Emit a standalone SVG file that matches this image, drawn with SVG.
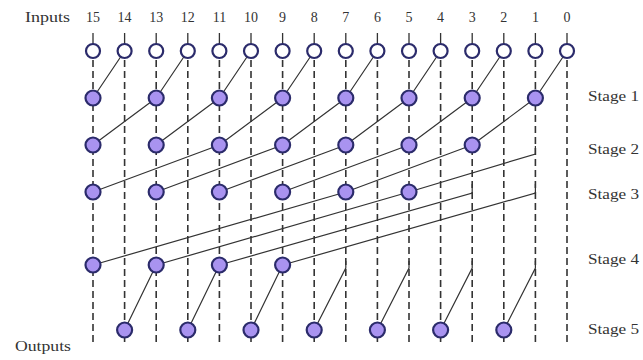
<svg xmlns="http://www.w3.org/2000/svg" width="643" height="360" viewBox="0 0 643 360">
<style>
text{font-family:"Liberation Serif","Times New Roman",serif;font-size:14px;fill:#333}
.num{text-anchor:middle;font-size:14px}
.dash{stroke:#333;stroke-width:1.6;stroke-dasharray:7 4;fill:none}
.tick{stroke:#333;stroke-width:1.3}
.w{stroke:#333;stroke-width:1.2;fill:none}
.in{fill:#fff;stroke:#2b2b6b;stroke-width:2.2}
.pc{fill:#a993f0;stroke:#2b2b6b;stroke-width:2.2}
</style>
<rect width="643" height="360" fill="#fff"/>
<g id="labels">
<text x="25" y="22" textLength="45" lengthAdjust="spacingAndGlyphs">Inputs</text>
<text class="num" x="93" y="22">15</text>
<text class="num" x="124.6" y="22">14</text>
<text class="num" x="156.2" y="22">13</text>
<text class="num" x="187.8" y="22">12</text>
<text class="num" x="219.4" y="22">11</text>
<text class="num" x="251" y="22">10</text>
<text class="num" x="282.6" y="22">9</text>
<text class="num" x="314.2" y="22">8</text>
<text class="num" x="345.8" y="22">7</text>
<text class="num" x="377.4" y="22">6</text>
<text class="num" x="409" y="22">5</text>
<text class="num" x="440.6" y="22">4</text>
<text class="num" x="472.2" y="22">3</text>
<text class="num" x="503.8" y="22">2</text>
<text class="num" x="535.4" y="22">1</text>
<text class="num" x="567" y="22">0</text>
<text x="588" y="101" textLength="51" lengthAdjust="spacingAndGlyphs">Stage 1</text>
<text x="588" y="154" textLength="51" lengthAdjust="spacingAndGlyphs">Stage 2</text>
<text x="588" y="199" textLength="51" lengthAdjust="spacingAndGlyphs">Stage 3</text>
<text x="588" y="264" textLength="51" lengthAdjust="spacingAndGlyphs">Stage 4</text>
<text x="588" y="334" textLength="51" lengthAdjust="spacingAndGlyphs">Stage 5</text>
<text x="15" y="351" textLength="56" lengthAdjust="spacingAndGlyphs">Outputs</text>
</g>
<g id="columns">
<path class="tick" d="M93 33V44M124.6 33V44M156.2 33V44M187.8 33V44M219.4 33V44M251 33V44M282.6 33V44M314.2 33V44M345.8 33V44M377.4 33V44M409 33V44M440.6 33V44M472.2 33V44M503.8 33V44M535.4 33V44M567 33V44"/>
<path class="dash" d="M93 60V346M124.6 60V346M156.2 60V346M187.8 60V346M219.4 60V346M251 60V346M282.6 60V346M314.2 60V346M345.8 60V346M377.4 60V346M409 60V346M440.6 60V346M472.2 60V346M503.8 60V346M535.4 60V346M567 60V346"/>
</g>
<g id="connectors">
<path class="w" d="M124.6 51L93 98M187.8 51L156.2 98M251 51L219.4 98M314.2 51L282.6 98M377.4 51L345.8 98M440.6 51L409 98M503.8 51L472.2 98M567 51L535.4 98"/>
<path class="w" d="M156.2 98L93 145M219.4 98L156.2 145M282.6 98L219.4 145M345.8 98L282.6 145M409 98L345.8 145M472.2 98L409 145M535.4 98L472.2 145"/>
<path class="w" d="M219.4 145L93 192M282.6 145L156.2 192M345.8 145L219.4 192M409 145L282.6 192M472.2 145L345.8 192M535.4 146V154L409 192"/>
<path class="w" d="M345.8 192L93 265M409 192L156.2 265M472.2 184V193L219.4 265M535.4 184V193L282.6 265"/>
<path class="w" d="M156.2 265L124.6 330M219.4 265L187.8 330M282.6 265L251 330M345.8 261V268L314.2 330M409 261V268L377.4 330M472.2 261V268L440.6 330M535.4 261V268L503.8 330"/>
</g>
<g id="inputs">
<circle class="in" cx="93" cy="51" r="7"/><circle class="in" cx="124.6" cy="51" r="7"/><circle class="in" cx="156.2" cy="51" r="7"/><circle class="in" cx="187.8" cy="51" r="7"/><circle class="in" cx="219.4" cy="51" r="7"/><circle class="in" cx="251" cy="51" r="7"/><circle class="in" cx="282.6" cy="51" r="7"/><circle class="in" cx="314.2" cy="51" r="7"/><circle class="in" cx="345.8" cy="51" r="7"/><circle class="in" cx="377.4" cy="51" r="7"/><circle class="in" cx="409" cy="51" r="7"/><circle class="in" cx="440.6" cy="51" r="7"/><circle class="in" cx="472.2" cy="51" r="7"/><circle class="in" cx="503.8" cy="51" r="7"/><circle class="in" cx="535.4" cy="51" r="7"/><circle class="in" cx="567" cy="51" r="7"/>
</g>
<g id="stage1">
<circle class="pc" cx="93" cy="98" r="7.5"/><circle class="pc" cx="156.2" cy="98" r="7.5"/><circle class="pc" cx="219.4" cy="98" r="7.5"/><circle class="pc" cx="282.6" cy="98" r="7.5"/><circle class="pc" cx="345.8" cy="98" r="7.5"/><circle class="pc" cx="409" cy="98" r="7.5"/><circle class="pc" cx="472.2" cy="98" r="7.5"/><circle class="pc" cx="535.4" cy="98" r="7.5"/>
</g>
<g id="stage2">
<circle class="pc" cx="93" cy="145" r="7.5"/><circle class="pc" cx="156.2" cy="145" r="7.5"/><circle class="pc" cx="219.4" cy="145" r="7.5"/><circle class="pc" cx="282.6" cy="145" r="7.5"/><circle class="pc" cx="345.8" cy="145" r="7.5"/><circle class="pc" cx="409" cy="145" r="7.5"/><circle class="pc" cx="472.2" cy="145" r="7.5"/>
</g>
<g id="stage3">
<circle class="pc" cx="93" cy="192" r="7.5"/><circle class="pc" cx="156.2" cy="192" r="7.5"/><circle class="pc" cx="219.4" cy="192" r="7.5"/><circle class="pc" cx="282.6" cy="192" r="7.5"/><circle class="pc" cx="345.8" cy="192" r="7.5"/><circle class="pc" cx="409" cy="192" r="7.5"/>
</g>
<g id="stage4">
<circle class="pc" cx="93" cy="265" r="7.5"/><circle class="pc" cx="156.2" cy="265" r="7.5"/><circle class="pc" cx="219.4" cy="265" r="7.5"/><circle class="pc" cx="282.6" cy="265" r="7.5"/>
</g>
<g id="stage5">
<circle class="pc" cx="124.6" cy="330" r="7.5"/><circle class="pc" cx="187.8" cy="330" r="7.5"/><circle class="pc" cx="251" cy="330" r="7.5"/><circle class="pc" cx="314.2" cy="330" r="7.5"/><circle class="pc" cx="377.4" cy="330" r="7.5"/><circle class="pc" cx="440.6" cy="330" r="7.5"/><circle class="pc" cx="503.8" cy="330" r="7.5"/>
</g>
</svg>
